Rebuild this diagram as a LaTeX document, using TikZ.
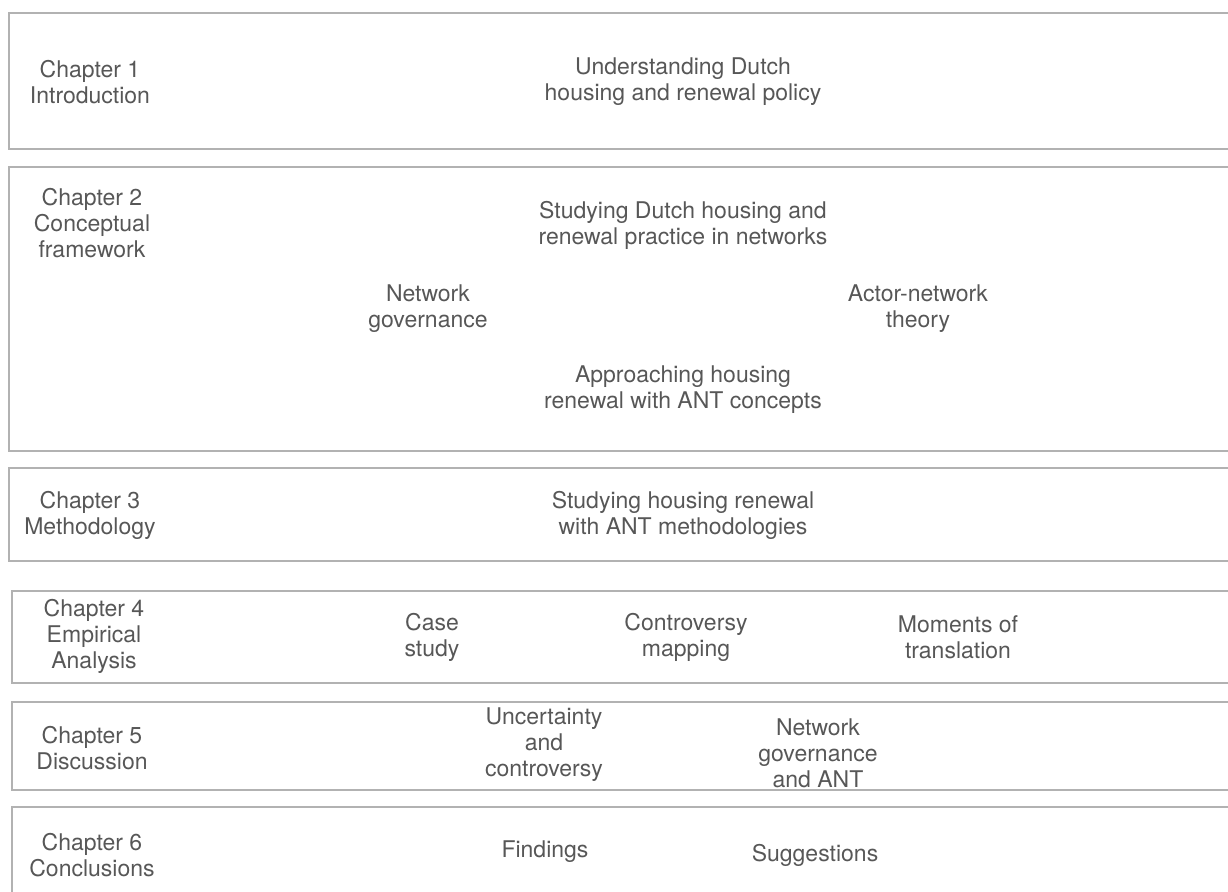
\documentclass[tikz,border=0pt]{standalone}
\usepackage{fontspec}
\setmainfont{TeX Gyre Heros}
\usepackage{tikz}
\tikzstyle{chapbox}=[draw=black!30,line width=1pt]
\tikzstyle{chaplabel}=[align=center,text=black!66,inner sep=0pt,font=\fontsize{11.5}{13}\selectfont]
\tikzstyle{topic}=[chaplabel]

\begin{document}
\begin{tikzpicture}[x=0.5pt,y=-0.5pt]

    \useasboundingbox (0,0) rectangle (1228,891);
    \clip (0,0) rectangle (1228,891);

    % chapter frames, open to the right
    \foreach \l/\t/\b in {9/13/149, 9/167/451, 9/468/561, 12/591/683, 12/702/790, 12/807/905}
        \draw[chapbox] (\l,\t) rectangle (1240,\b);

    % chapter titles
    \foreach \x/\y/\name/\txt in {90/82/chI/{Chapter 1\\Introduction},
                                  92/223/chII/{Chapter 2\\Conceptual\\framework},
                                  90/515/chIII/{Chapter 3\\Methodology},
                                  94/636/chIV/{Chapter 4\\Empirical\\Analysis},
                                  92/748/chV/{Chapter 5\\Discussion},
                                  92/855/chVI/{Chapter 6\\Conclusions}}
        \node[chaplabel] (\name) at (\x,\y) {\txt};

    % topics of each chapter
    \foreach \x/\y/\name/\txt in {683/82/policy/{Understanding Dutch\\housing and renewal policy},
                                  683/225/practice/{Studying Dutch housing and\\renewal practice in networks},
                                  428/309/netgov/{Network\\governance},
                                  918/309/ant/{Actor-network\\theory},
                                  683/390/concepts/{Approaching housing\\renewal with ANT concepts},
                                  683/515/methods/{Studying housing renewal\\with ANT methodologies},
                                  432/637/casestudy/{Case\\study},
                                  686/637/mapping/{Controversy\\mapping},
                                  958/637/moments/{Moments of\\translation},
                                  544/745/uncertainty/{Uncertainty\\and\\controversy},
                                  818/753/netgovant/{Network\\governance\\and ANT},
                                  545/852/findings/{Findings},
                                  815/855/suggestions/{Suggestions}}
        \node[topic] (\name) at (\x,\y) {\txt};

\end{tikzpicture}
\end{document}
